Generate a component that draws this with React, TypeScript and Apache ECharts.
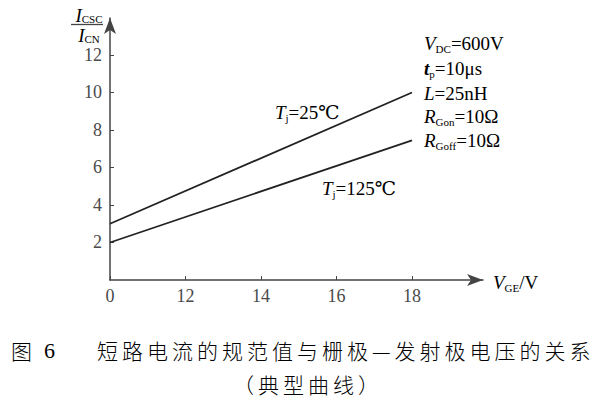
import React, { useEffect, useRef } from "react";
import * as echarts from "echarts";

// x positions on a broken axis: 0 | 12 14 16 18 (equally spaced)
const xTickLabels = ["0", "12", "14", "16", "18"];
const xPositions = [0, 1, 2, 3, 4];
const yTicks = [0, 2, 4, 6, 8, 10, 12];
const seriesNames = ["Tj=25℃", "Tj=125℃"];
const line25 = [3.0, 10.0]; // at VGE=0 and VGE=18
const line125 = [2.0, 7.45];
const linePos = [0, 4];
const params = ["VDC=600V", "tp=10μs", "L=25nH", "RGon=10Ω", "RGoff=10Ω"];
const captionHead = "图6";
const caption1 = "短路电流的规范值与栅极—发射极电压的关系";
const caption2 = "（典型曲线）";

const SERIF = "'Liberation Serif', 'DejaVu Serif', serif";
const CJK = "'Noto Sans CJK SC', sans-serif";
const TXT = "#4a4a4a";

const rich = (size: number, lh?: number) => ({
  i: { fontFamily: SERIF, fontStyle: "italic", fontSize: size, color: TXT, lineHeight: lh ?? size + 4 },
  b: { fontFamily: SERIF, fontStyle: "italic", fontWeight: "bold", fontSize: size, color: "#333", lineHeight: lh ?? size + 4 },
  s: { fontFamily: SERIF, fontSize: Math.round(size * 0.6), color: TXT, verticalAlign: "bottom", lineHeight: lh ?? size + 4 },
  n: { fontFamily: SERIF, fontSize: size, color: TXT, lineHeight: lh ?? size + 4 },
});

const spaced = (s: string) =>
  Array.from(s)
    .map((ch) => `{c|${ch}}`)
    .join("");

const capRich = {
  c: { fontFamily: CJK, fontSize: 21, fontWeight: 300, color: "#444", padding: [0, 2, 0, 2], lineHeight: 26 },
  d: { fontFamily: SERIF, fontSize: 22, color: "#444", padding: [0, 0, 0, 10], lineHeight: 26 },
  g: { width: 40, lineHeight: 26 },
};

export default function App() {
  const ref = useRef<HTMLDivElement>(null);
  useEffect(() => {
    document.body.style.margin = "0";
    const chart = echarts.init(ref.current!, undefined, { renderer: "svg" });
    const fs = 19;
    const paramRich = [
      "{i|V}{s|DC}{n|=600V}",
      "{b|t}{s|p}{n|=10μs}",
      "{i|L}{n|=25nH}",
      "{i|R}{s|Gon}{n|=10Ω}",
      "{i|R}{s|Goff}{n|=10Ω}",
    ];
    const paramY = [43, 68, 93, 116, 140];
    chart.setOption({
      animation: false,
      grid: { left: 110, top: 18, right: 129, bottom: 123, containLabel: false },
      xAxis: {
        type: "value",
        min: 0,
        max: 4.94,
        interval: 1,
        axisLine: {
          show: true,
          symbol: ["none", "arrow"],
          symbolSize: [9, 16],
          lineStyle: { color: "#444", width: 1.5 },
        },
        axisTick: { show: true, inside: true, length: 4, customValues: xPositions, lineStyle: { color: "#444" } },
        axisLabel: {
          customValues: xPositions,
          formatter: (v: number) => xTickLabels[Math.round(v)] ?? "",
          fontFamily: SERIF,
          fontSize: 18,
          color: TXT,
          margin: 7,
        },
        splitLine: { show: false },
      },
      yAxis: {
        type: "value",
        min: 0,
        max: 13.97,
        interval: 2,
        axisLine: {
          show: true,
          symbol: ["none", "arrow"],
          symbolSize: [9, 16],
          lineStyle: { color: "#444", width: 1.5 },
        },
        axisTick: { show: true, inside: true, length: 4, customValues: yTicks.slice(1), lineStyle: { color: "#444" } },
        axisLabel: {
          customValues: yTicks.slice(1),
          fontFamily: SERIF,
          fontSize: 18,
          color: TXT,
          margin: 8,
        },
        splitLine: { show: false },
      },
      series: [
        {
          name: seriesNames[0],
          type: "line",
          data: linePos.map((x, i) => [x, line25[i]]),
          showSymbol: false,
          lineStyle: { color: "#222", width: 1.8 },
        },
        {
          name: seriesNames[1],
          type: "line",
          data: linePos.map((x, i) => [x, line125[i]]),
          showSymbol: false,
          lineStyle: { color: "#222", width: 1.8 },
        },
      ],
      graphic: [
        {
          type: "text",
          x: 89,
          y: 15,
          style: { text: "{i|I}{s|CSC}", rich: rich(19, 19), align: "center", verticalAlign: "middle" },
        },
        { type: "line", shape: { x1: 71, y1: 24.5, x2: 103, y2: 24.5 }, style: { stroke: "#444", lineWidth: 1.3 } },
        {
          type: "text",
          x: 89,
          y: 35,
          style: { text: "{i|I}{s|CN}", rich: rich(19, 19), align: "center", verticalAlign: "middle" },
        },
        {
          type: "text",
          x: 493,
          y: 282,
          style: { text: "{i|V}{s|GE}{n|/V}", rich: rich(fs), align: "left", verticalAlign: "middle" },
        },
        {
          type: "text",
          x: 275,
          y: 112,
          style: { text: "{i|T}{s|j}{n|=25℃}", rich: rich(fs), align: "left", verticalAlign: "middle" },
        },
        {
          type: "text",
          x: 322,
          y: 188,
          style: { text: "{i|T}{s|j}{n|=125℃}", rich: rich(fs), align: "left", verticalAlign: "middle" },
        },
        ...paramRich.map((t, k) => ({
          type: "text",
          x: 424,
          y: paramY[k],
          name: params[k],
          style: { text: t, rich: rich(fs), align: "left", verticalAlign: "middle" },
        })),
        {
          type: "text",
          x: 9,
          y: 350,
          style: {
            text: `{c|${captionHead[0]}}{d|${captionHead.slice(1)}}{g|}` + spaced(caption1),
            rich: capRich,
            align: "left",
            verticalAlign: "middle",
          },
        },
        {
          type: "text",
          x: 306,
          y: 384,
          style: { text: spaced(caption2), rich: capRich, align: "center", verticalAlign: "middle" },
        },
      ],
    });
    return () => chart.dispose();
  }, []);
  return <div ref={ref} style={{ width: 612, height: 403 }} />;
}
